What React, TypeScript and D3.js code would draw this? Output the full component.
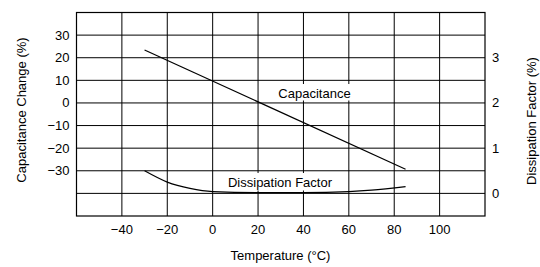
import React from 'react';
import * as d3 from 'd3';

const tempTicks = [-40, -20, 0, 20, 40, 60, 80, 100];
const capTicks = [30, 20, 10, 0, -10, -20, -30];
const capGrid = [30, 20, 10, 0, -10, -20, -30, -40];
const dfTicks = [0, 1, 2, 3];

// capacitance change (%) vs temperature
const capTemp = [-30, 85];
const capValues = [23.4, -29.3];

// dissipation factor (%) vs temperature
const dfTemp = [-30, -20, -10, 0, 20, 40, 60, 70, 85];
const dfValues = [0.5, 0.25, 0.11, 0.04, 0.02, 0.02, 0.04, 0.07, 0.15];

const W = 540;
const H = 267;
const font = '"Liberation Sans", Arial, sans-serif';
const fmt = (v: number) => (v < 0 ? '\u2212' + Math.abs(v) : String(v));

const App = () => {
  const x = d3.scaleLinear().domain([-60, 120]).range([76.5, 485]);
  const y = d3.scaleLinear().domain([-50, 40]).range([216, 12.5]);
  const yR = d3.scaleLinear().domain([-0.5, 4]).range([216, 12.5]);

  const capLine = d3.line<number>()
    .x((_, i) => x(capTemp[i]))
    .y(d => y(d));
  const dfLine = d3.line<number>()
    .x((_, i) => x(dfTemp[i]))
    .y(d => yR(d))
    .curve(d3.curveMonotoneX);

  const [x0, x1] = x.range();
  const [y0, y1] = y.range();

  return (
    <svg width={W} height={H} style={{ position: 'absolute', left: 0, top: 0 }}
      fontFamily={font} fontSize={13}>
      <rect width={W} height={H} fill="#fff" />
      {tempTicks.map(t => (
        <line key={'vx' + t} x1={x(t)} x2={x(t)} y1={y1} y2={y0} stroke="#000" strokeWidth={1} />
      ))}
      {capGrid.map(v => (
        <line key={'hy' + v} x1={x0} x2={x1} y1={y(v)} y2={y(v)} stroke="#000" strokeWidth={1} />
      ))}
      <rect x={x0} y={y1} width={x1 - x0} height={y0 - y1} fill="none" stroke="#000" strokeWidth={1.2} />

      <path d={capLine(capValues) || ''} fill="none" stroke="#000" strokeWidth={1.2} />
      <path d={dfLine(dfValues) || ''} fill="none" stroke="#000" strokeWidth={1.2} />

      <rect x={275} y={84} width={80} height={16.5} fill="#fff" />
      <text x={314.5} y={98.3} textAnchor="middle">Capacitance</text>
      <rect x={225} y={173} width={111} height={17.5} fill="#fff" />
      <text x={280} y={186.7} textAnchor="middle">Dissipation Factor</text>

      {capTicks.map(v => (
        <text key={'ly' + v} x={69.5} y={y(v)} dy="0.35em" textAnchor="end">{fmt(v)}</text>
      ))}
      {dfTicks.map(v => (
        <text key={'ry' + v} x={492} y={yR(v)} dy="0.35em">{fmt(v)}</text>
      ))}
      {tempTicks.map(t => (
        <text key={'xt' + t} x={x(t)} y={234} textAnchor="middle">{fmt(t)}</text>
      ))}

      <text x={280.5} y={260} textAnchor="middle">Temperature (°C)</text>
      <text transform="translate(26,110) rotate(-90)" textAnchor="middle">Capacitance Change (%)</text>
      <text transform="translate(536,121) rotate(-90)" textAnchor="middle">Dissipation Factor (%)</text>
    </svg>
  );
};

export default App;
